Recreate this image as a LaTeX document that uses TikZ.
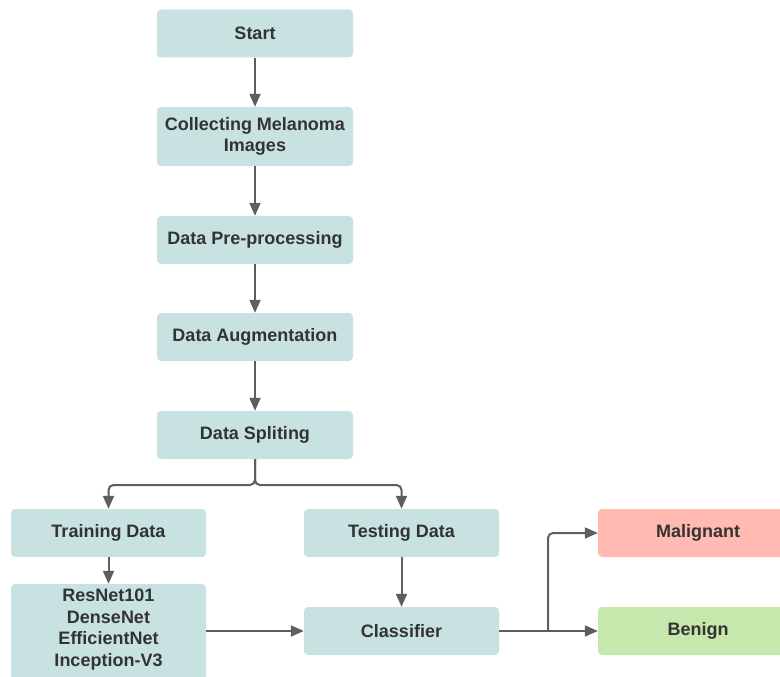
\documentclass[tikz,border=0pt]{standalone}
\usepackage{fontspec}
\setmainfont{Liberation Sans}
\usetikzlibrary{arrows.meta}
\definecolor{tealbox}{HTML}{C7E2E0}
\definecolor{redbox}{HTML}{FFBAB1}
\definecolor{greenbox}{HTML}{C7E8AD}
\definecolor{txt}{HTML}{333333}
\definecolor{ln}{HTML}{5E5E5E}
\tikzset{
  boxfont/.style={text=txt, font=\fontsize{18}{21.7}\selectfont\bfseries, align=center},
  box/.style={boxfont, fill=tealbox, draw=none, rounded corners=4pt, minimum width=196pt, minimum height=48pt,
    inner sep=0pt, anchor=center},
  conn/.style={draw=ln, line width=2pt, -{Triangle[length=13pt,width=11pt]}, rounded corners=5pt}
}
\begin{document}
\begin{tikzpicture}[x=1pt,y=-1pt]
\useasboundingbox (0,0) rectangle (780,677);
\clip (0,0) rectangle (780,677);
\node[box] (start) at (255,33.5) {Start};
\node[box, minimum height=59pt] (collect) at (255,136.5) {Collecting Melanoma\\Images};
\node[box] (pre) at (255,240) {Data Pre-processing};
\node[box] (aug) at (255,337) {Data Augmentation};
\node[box] (split) at (255,435) {Data Spliting};
\node[box, minimum width=195pt] (train) at (108.5,533) {Training Data};
\node[box, minimum width=195pt] (test) at (401.5,533) {Testing Data};
\node[box, minimum width=195pt, minimum height=98pt] (models) at (108.5,633) {};
\node[boxfont, inner sep=0pt] (modeltxt) at (108.5,629.5) {ResNet101\\DenseNet\\EfficientNet\\Inception-V3};
\node[box, minimum width=195pt] (clf) at (401.5,631) {Classifier};
\node[box, fill=redbox, minimum width=200pt] (mal) at (698,533) {Malignant};
\node[box, fill=greenbox, minimum width=200pt] (ben) at (698,631) {Benign};
\coordinate (fork) at (255,485);
\coordinate (cfork) at (548,631);

\draw[conn] (start) -- (collect);
\draw[conn] (collect) -- (pre);
\draw[conn] (pre) -- (aug);
\draw[conn] (aug) -- (split);
\draw[conn] (split.south) -- (fork) -| (train.north);
\draw[conn] (split.south) -- (fork) -| (test.north);
\draw[conn] (train) -- (models);
\draw[conn] (test) -- (clf);
\draw[conn] (models.east |- clf) -- (clf.west);
\draw[conn] (clf.east) -- (ben.west);
\draw[conn] (cfork) |- (mal.west);
\end{tikzpicture}
\end{document}
